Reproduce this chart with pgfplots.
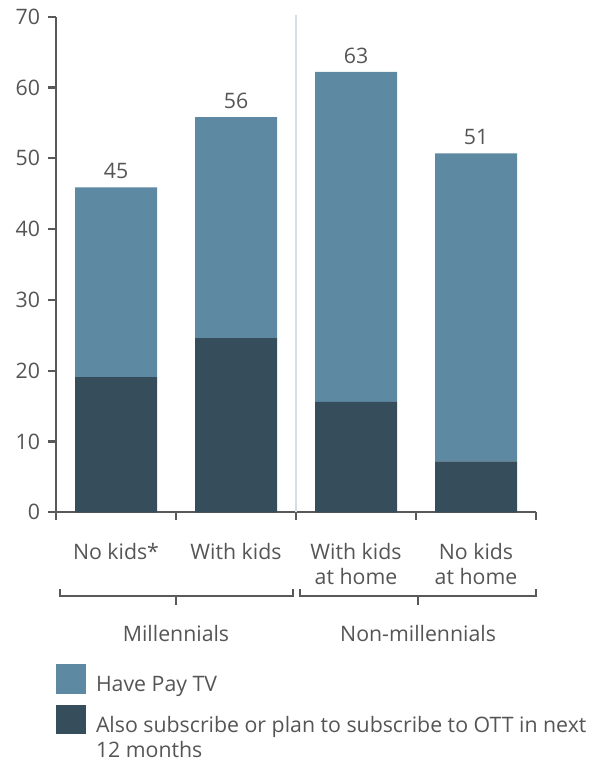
\documentclass[border=0pt]{standalone}
\usepackage{fontspec}
\setmainfont{Open Sans}
\usepackage{pgfplots}
\pgfplotsset{compat=1.18}
\definecolor{lightbar}{HTML}{5E89A2}
\definecolor{darkbar}{HTML}{364D5B}
\definecolor{axisgray}{HTML}{595959}
\definecolor{txtgray}{HTML}{555555}
\definecolor{sepgray}{HTML}{D6DDE3}
\begin{document}
\begin{tikzpicture}[font=\fontsize{21.3bp}{25bp}\selectfont]
\begin{axis}[
  scale only axis, width=480bp, height=495.6bp,
  xmin=-0.5, xmax=3.5, ymin=0, ymax=70,
  axis lines*=left,
  axis line style={axisgray, line width=2.2bp},
  tick style={axisgray, line width=2.2bp},
  tick align=outside,
  major tick length=7.5bp,
  ytick={0,10,...,70},
  xtick={-0.5,0.5,1.5,2.5,3.5},
  x tick label as interval,
  xticklabels={No kids*, With kids, With kids\\at home, No kids\\at home},
  xticklabel style={align=center, text=txtgray, yshift=-20bp},
  yticklabel style={text=txtgray, xshift=-5bp},
  /pgf/number format/assume math mode=true,
  ybar stacked, bar width=82bp,
  clip=false,
  legend style={at={(0,0)}, anchor=north west, yshift=-151.7bp, draw=none, fill=none,
    inner sep=0pt, outer sep=0pt, row sep=11bp, column sep=10bp,
    cells={anchor=base west}, nodes={inner sep=0pt, text=txtgray}},
  legend image code/.code={\fill[#1] (0bp,-2bp) rectangle (30bp,27.7bp);},
  reverse legend,
]
\draw[sepgray, line width=2.7bp] (axis cs:1.5,0) -- (axis cs:1.5,70.2);
\addplot[fill=darkbar, draw=none] coordinates {(0,19.1) (1,24.6) (2,15.6) (3,7.2)};
\addlegendentry{\begin{tabular}[t]{@{}l@{}}Also subscribe or plan to subscribe to OTT in next\\[0.5bp]12 months\end{tabular}}
\addplot[fill=lightbar, draw=none, nodes near coords, point meta=explicit symbolic,
  visualization depends on={rawy \as \segh},
  nodes near coords style={anchor=south, text=txtgray, yshift=\segh*3.54bp+5bp}]
  table[meta=lab, row sep=\\] {x y lab\\ 0 26.8 45\\ 1 31.2 56\\ 2 46.6 63\\ 3 43.5 51\\};
\addlegendentry{Have Pay TV}
% group brackets
\draw[axisgray, line width=2.2bp] ([yshift=-77bp]axis cs:-0.467,0) -- ([yshift=-83.4bp]axis cs:-0.467,0) -- ([yshift=-83.4bp]axis cs:1.475,0) -- ([yshift=-77bp]axis cs:1.475,0);
\draw[axisgray, line width=2.2bp] ([yshift=-83.4bp]axis cs:0.5,0) -- ([yshift=-93bp]axis cs:0.5,0);
\draw[axisgray, line width=2.2bp] ([yshift=-77bp]axis cs:1.533,0) -- ([yshift=-83.4bp]axis cs:1.533,0) -- ([yshift=-83.4bp]axis cs:3.497,0) -- ([yshift=-77bp]axis cs:3.497,0);
\draw[axisgray, line width=2.2bp] ([yshift=-83.4bp]axis cs:2.517,0) -- ([yshift=-93bp]axis cs:2.517,0);
\node[anchor=base, text=txtgray] at ([yshift=-129.4bp]axis cs:0.5,0) {Millennials};
\node[anchor=base, text=txtgray] at ([yshift=-129.4bp]axis cs:2.517,0) {Non-millennials};
\end{axis}
\pgfresetboundingbox
\path[use as bounding box] ([xshift=-56bp, yshift=-249.7bp]current axis.south west) rectangle ([xshift=533bp, yshift=512.3bp]current axis.south west);
\end{tikzpicture}
\end{document}
